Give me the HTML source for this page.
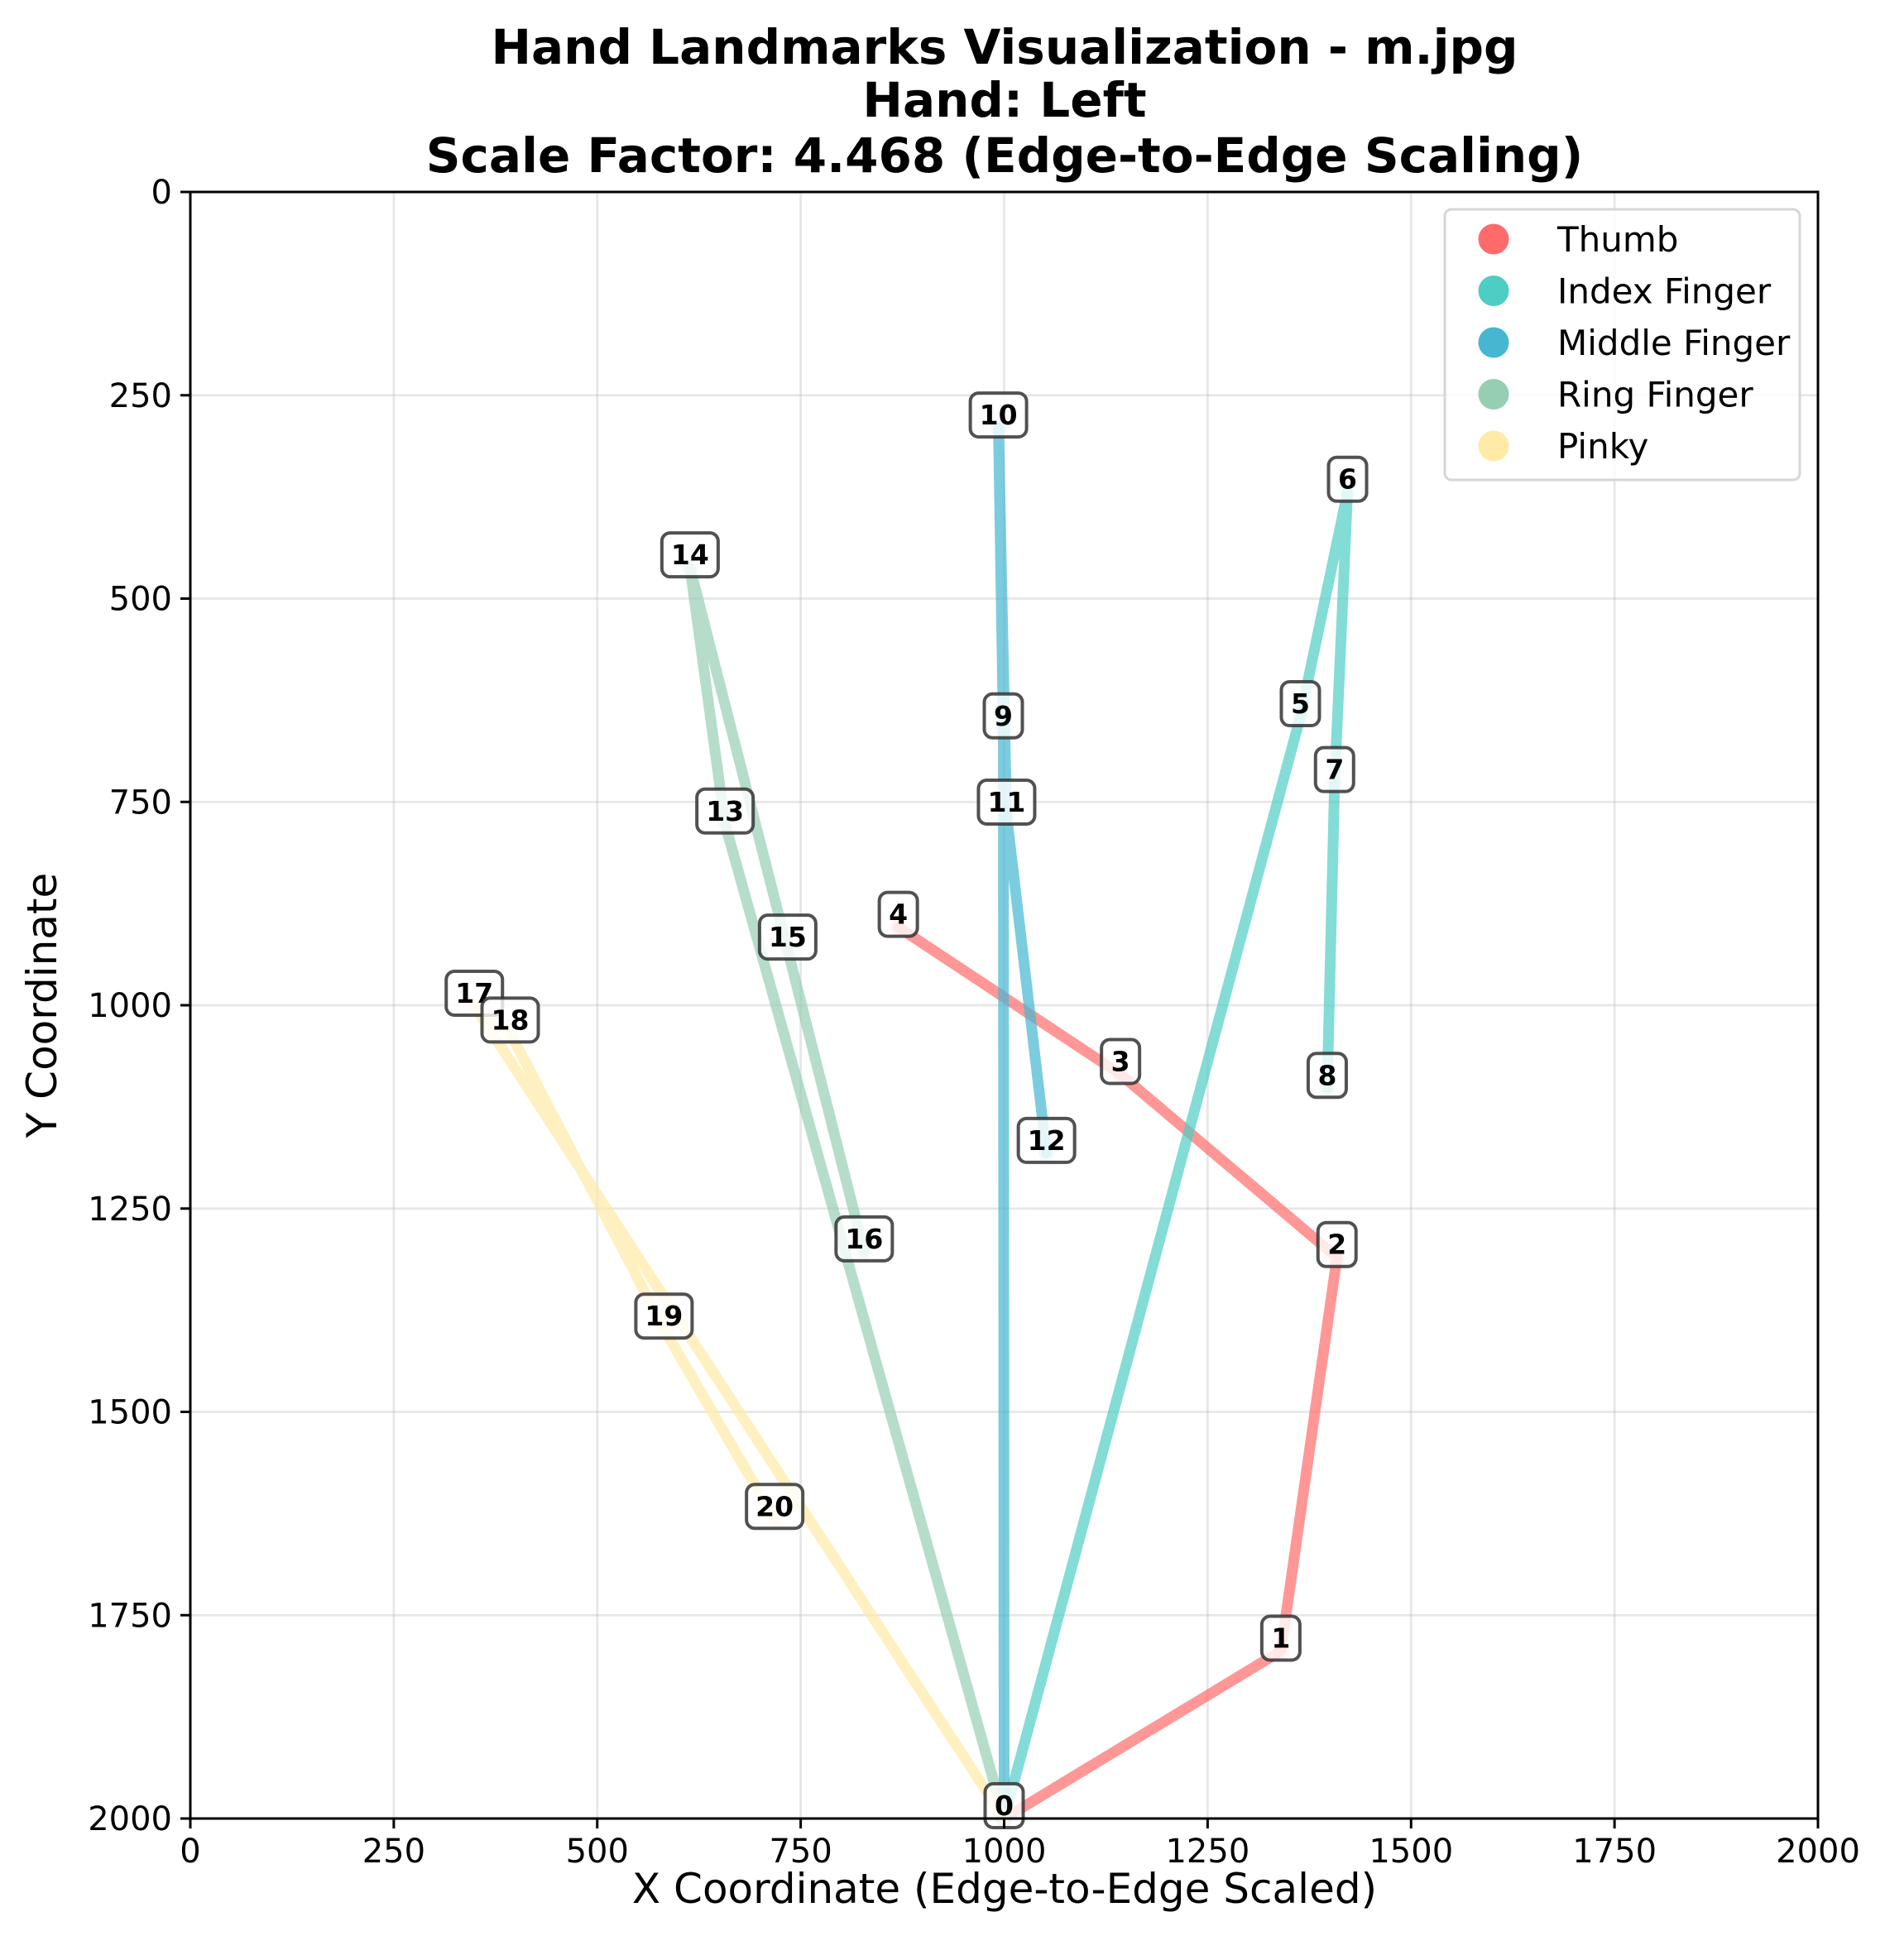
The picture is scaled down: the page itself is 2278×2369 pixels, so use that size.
<!DOCTYPE html>
<html><head><meta charset="utf-8"><style>
body{margin:0;background:#fff}
svg text{font-family:"DejaVu Sans","Liberation Sans",sans-serif}
</style></head><body>
<svg id="c" width="2278" height="2364" viewBox="0 0 2278 2364" xmlns="http://www.w3.org/2000/svg">
<rect width="2278" height="2364" fill="#fff"/>
<g font-weight="bold" font-size="58" text-anchor="middle">
<text x="1214" y="77">Hand Landmarks Visualization - m.jpg</text>
<text x="1214" y="141">Hand: Left</text>
<text x="1214" y="208">Scale Factor: 4.468 (Edge-to-Edge Scaling)</text>
</g>
<g id="grid"></g>
<g id="lines"></g>
<g id="labels"></g>
<rect x="230" y="232" width="1967" height="1966" fill="none" stroke="#000" stroke-width="3"/>
<g id="ticks" font-size="40"></g>
<text x="1214" y="2300" font-size="50" text-anchor="middle">X Coordinate (Edge-to-Edge Scaled)</text>
<text x="0" y="0" font-size="50" text-anchor="middle" transform="translate(68,1215) rotate(-90)">Y Coordinate</text>
<g id="legend"></g>
</svg>
<script>
const xTicks=[0,250,500,750,1000,1250,1500,1750,2000];
const yTicks=[0,250,500,750,1000,1250,1500,1750,2000];
const ptX=[1000,1340,1409,1143,870,1364,1422,1406,1397,999,993,1003,1052,657,614,734,828,349,393,582,718];
const ptY=[2000,1794,1310,1085,904,645,369,726,1102,660,290,766,1182,777,462,932,1303,1001,1034,1398,1632];
const fingerNames=["Thumb","Index Finger","Middle Finger","Ring Finger","Pinky"];
const fingerColors=["#FF6B6B","#4ECDC4","#45B7D1","#96CEB4","#FFEAA7"];
const fingerIdx=[[0,1,2,3,4],[0,5,6,7,8],[0,9,10,11,12],[0,13,14,15,16],[0,17,18,19,20]];
const L=230,T=232,W=1967,H=1966;
const sx=v=>L+v/2000*W, sy=v=>T+v/2000*H;
const NS="http://www.w3.org/2000/svg";
function mk(tag,attrs,parent){const e=document.createElementNS(NS,tag);for(const k in attrs)e.setAttribute(k,attrs[k]);parent.appendChild(e);return e;}
const grid=document.getElementById('grid'),ticks=document.getElementById('ticks');
xTicks.forEach(v=>{
 const g=mk('line',{x1:sx(v),x2:sx(v),y1:T,y2:T+H,stroke:'#b0b0b0','stroke-opacity':0.3,'stroke-width':2.8},grid);
 
 
 const t=mk('line',{x1:sx(v),x2:sx(v),y1:T+H,y2:T+H+12,stroke:'#000','stroke-width':3},ticks);
 
 
 const tx=mk('text',{x:sx(v),y:T+H+53,'text-anchor':'middle'},ticks);tx.textContent=v;
 
 
});
yTicks.forEach(v=>{
 const g=mk('line',{x1:L,x2:L+W,y1:sy(v),y2:sy(v),stroke:'#b0b0b0','stroke-opacity':0.3,'stroke-width':2.8},grid);
 
 
 const t=mk('line',{x1:L-12,x2:L,y1:sy(v),y2:sy(v),stroke:'#000','stroke-width':3},ticks);
 
 
 const tx=mk('text',{x:L-22,y:sy(v)+14,'text-anchor':'end'},ticks);tx.textContent=v;
 
 
});
const lines=document.getElementById('lines');
fingerIdx.forEach((idx,f)=>{
 const p=mk('polyline',{points:idx.map(i=>sx(ptX[i])+','+sy(ptY[i])).join(' '),fill:'none',stroke:fingerColors[f],'stroke-opacity':0.7,'stroke-width':13,'stroke-linecap':'round','stroke-linejoin':'round'},lines);
 
 
 idx.forEach(i=>{const c=mk('circle',{cx:sx(ptX[i]),cy:sy(ptY[i]),r:10,fill:fingerColors[f],'fill-opacity':0.3},lines);
 
 });
});
const labels=document.getElementById('labels');
ptX.forEach((x,i)=>{
 const cx=sx(x),cy=sy(ptY[i])-16;const w=i<10?46:68;
 const r=mk('rect',{x:cx-w/2,y:cy-26,width:w,height:53,rx:10,fill:'#fff','fill-opacity':0.8,stroke:'#333','stroke-opacity':0.85,'stroke-width':4},labels);
 
 
 const t=mk('text',{x:cx,y:cy+12,'text-anchor':'middle','font-size':33,'font-weight':'bold'},labels);t.textContent=i;
 
 
});
const lg=document.getElementById('legend');
const lb=mk('rect',{x:1746,y:253,width:429,height:327,rx:8,fill:'#fff','fill-opacity':0.8,stroke:'#d6d6d6','stroke-width':3},lg);


fingerNames.forEach((n,f)=>{
 const y=289+f*62.5;
 const c=mk('circle',{cx:1805,cy:y,r:18.5,fill:fingerColors[f]},lg);
 
 
 const t=mk('text',{x:1882,y:y+15,'font-size':42},lg);t.textContent=n;
 
 
});
</script>
</body></html>
